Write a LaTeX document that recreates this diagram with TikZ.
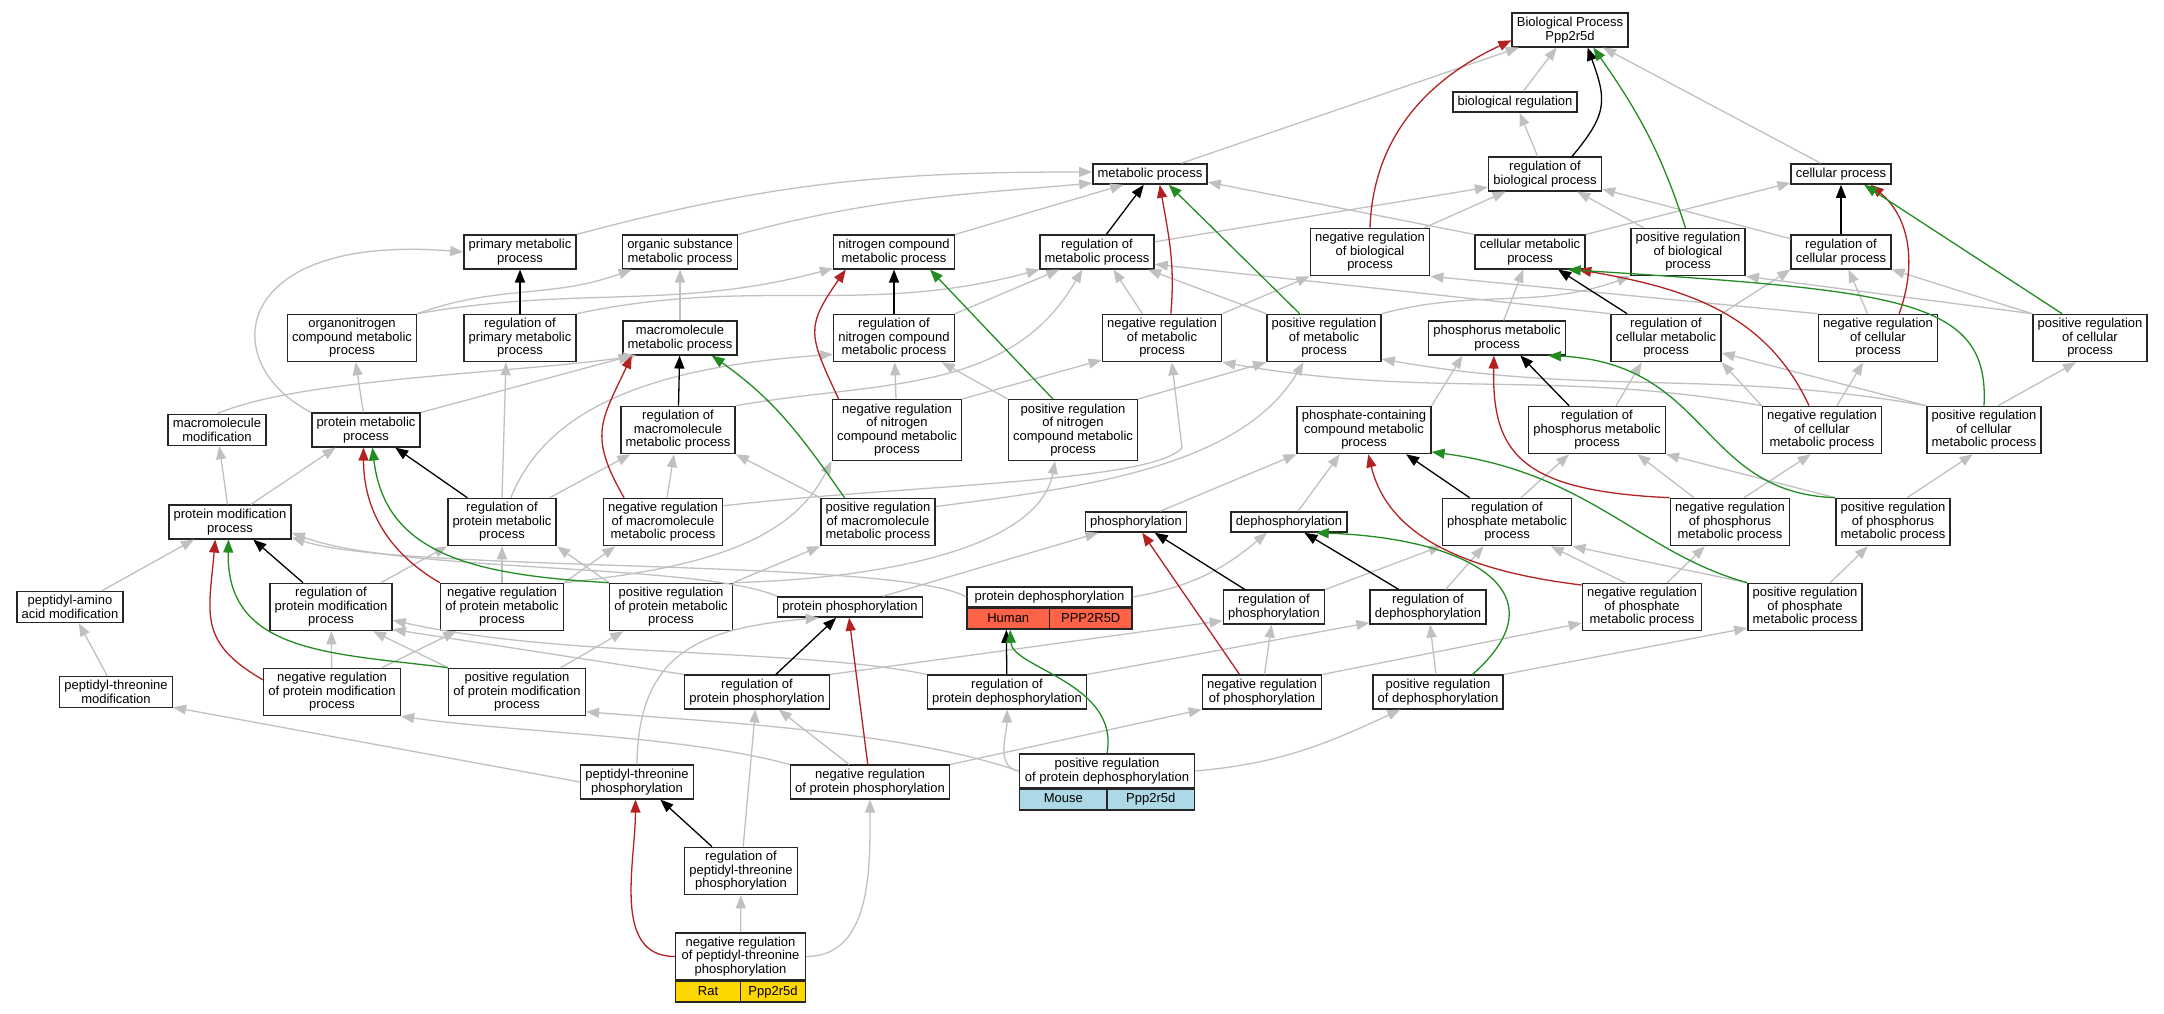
\documentclass[tikz,border=0pt]{standalone}
\usepackage{fontspec}
\setmainfont{Liberation Sans}
\usetikzlibrary{arrows.meta, positioning}

\definecolor{isagray}{RGB}{192,192,192}
\definecolor{negred}{RGB}{178,34,34}
\definecolor{posgreen}{RGB}{34,139,34}
\definecolor{human}{RGB}{255,99,71}
\definecolor{mouse}{RGB}{173,216,230}
\definecolor{rat}{RGB}{255,215,0}

\tikzset{
    term/.style={draw=black!85, line width=1.5pt, fill=white, align=center,
        font=\fontsize{13}{13.5}\selectfont, inner xsep=4.7pt, inner ysep=4pt},
    species/.style={draw=black!85, line width=1.5pt, font=\fontsize{13}{13.5}\selectfont,
        minimum height=20.5pt, text height=9.5pt, text depth=2.7pt, inner sep=0pt},
    link/.style={line width=1.3pt, -{Triangle[length=13pt, width=10pt]}},
    isa/.style={link, color=isagray},
    reg/.style={link, color=black},
    negreg/.style={link, color=negred},
    posreg/.style={link, color=posgreen}
}

\begin{document}
\begin{tikzpicture}[x=1pt, y=1pt]
        \useasboundingbox (0,0) rectangle (2164,1013);
        % terms, row by row
        \node[term] (bp) at (1570,983) {Biological Process\\Ppp2r5d};
        \node[term] (bioreg) at (1515,911) {biological regulation};
        \node[term] (metab) at (1150,839) {metabolic process};
        \node[term] (regbio) at (1545,839) {regulation of\\biological process};
        \node[term] (cell) at (1841,839) {cellular process};

        \node[term] (primary) at (520,761) {primary metabolic\\process};
        \node[term] (orgsub) at (680,761) {organic substance\\metabolic process};
        \node[term] (nitro) at (894,761) {nitrogen compound\\metabolic process};
        \node[term] (regmetab) at (1097,761) {regulation of\\metabolic process};
        \node[term] (negbio) at (1370,761) {negative regulation\\of biological\\process};
        \node[term] (cellmetab) at (1530,761) {cellular metabolic\\process};
        \node[term] (posbio) at (1688,761) {positive regulation\\of biological\\process};
        \node[term] (regcell) at (1841,761) {regulation of\\cellular process};

        \node[term] (orgnit) at (352,675) {organonitrogen\\compound metabolic\\process};
        \node[term] (regprim) at (520,675) {regulation of\\primary metabolic\\process};
        \node[term] (macro) at (680,675) {macromolecule\\metabolic process};
        \node[term] (regnitro) at (894,675) {regulation of\\nitrogen compound\\metabolic process};
        \node[term] (negmetab) at (1162,675) {negative regulation\\of metabolic\\process};
        \node[term] (posmetab) at (1324,675) {positive regulation\\of metabolic\\process};
        \node[term] (phosphorus) at (1497,675) {phosphorus metabolic\\process};
        \node[term] (regcellmetab) at (1666,675) {regulation of\\cellular metabolic\\process};
        \node[term] (negcell) at (1878,675) {negative regulation\\of cellular\\process};
        \node[term] (poscell) at (2090,675) {positive regulation\\of cellular\\process};

        \node[term] (macromod) at (217,583) {macromolecule\\modification};
        \node[term] (protmetab) at (366,583) {protein metabolic\\process};
        \node[term] (regmacro) at (678,583) {regulation of\\macromolecule\\metabolic process};
        \node[term] (negnitro) at (897,583) {negative regulation\\of nitrogen\\compound metabolic\\process};
        \node[term] (posnitro) at (1073,583) {positive regulation\\of nitrogen\\compound metabolic\\process};
        \node[term] (phosphate) at (1364,583) {phosphate-containing\\compound metabolic\\process};
        \node[term] (regphosphorus) at (1597,583) {regulation of\\phosphorus metabolic\\process};
        \node[term] (negcellmetab) at (1822,583) {negative regulation\\of cellular\\metabolic process};
        \node[term] (poscellmetab) at (1984,583) {positive regulation\\of cellular\\metabolic process};

        \node[term] (protmod) at (230,491) {protein modification\\process};
        \node[term] (regprotmetab) at (502,491) {regulation of\\protein metabolic\\process};
        \node[term] (negmacro) at (663,491) {negative regulation\\of macromolecule\\metabolic process};
        \node[term] (posmacro) at (878,491) {positive regulation\\of macromolecule\\metabolic process};
        \node[term] (phosphoryl) at (1136,491) {phosphorylation};
        \node[term] (dephos) at (1289,491) {dephosphorylation};
        \node[term] (regphosphate) at (1507,491) {regulation of\\phosphate metabolic\\process};
        \node[term] (negphosphorus) at (1730,491) {negative regulation\\of phosphorus\\metabolic process};
        \node[term] (posphosphorus) at (1893,491) {positive regulation\\of phosphorus\\metabolic process};

        \node[term] (peptamino) at (70,406) {peptidyl-amino\\acid modification};
        \node[term] (regprotmod) at (331,406) {regulation of\\protein modification\\process};
        \node[term] (negprotmetab) at (502,406) {negative regulation\\of protein metabolic\\process};
        \node[term] (posprotmetab) at (671,406) {positive regulation\\of protein metabolic\\process};
        \node[term] (protphos) at (850,406) {protein phosphorylation};
        \node[term, minimum width=165pt] (protdephos) at (1049.5,416) {protein dephosphorylation};
        \node[species, fill=human, minimum width=82.5pt, below right=0pt and 0pt of protdephos.south west] (protdephosH) {Human};
        \node[species, fill=human, minimum width=82.5pt, below left=0pt and 0pt of protdephos.south east] (protdephosG) {PPP2R5D};
        \node[term] (regphosphoryl) at (1274,406) {regulation of\\phosphorylation};
        \node[term] (regdephos) at (1428,406) {regulation of\\dephosphorylation};
        \node[term] (negphosphate) at (1642,406) {negative regulation\\of phosphate\\metabolic process};
        \node[term] (posphosphate) at (1805,406) {positive regulation\\of phosphate\\metabolic process};

        \node[term] (peptthrmod) at (116,321) {peptidyl-threonine\\modification};
        \node[term] (negprotmod) at (332,321) {negative regulation\\of protein modification\\process};
        \node[term] (posprotmod) at (517,321) {positive regulation\\of protein modification\\process};
        \node[term] (regprotphos) at (757,321) {regulation of\\protein phosphorylation};
        \node[term] (regprotdephos) at (1007,321) {regulation of\\protein dephosphorylation};
        \node[term] (negphosphoryl) at (1262,321) {negative regulation\\of phosphorylation};
        \node[term] (posdephos) at (1438,321) {positive regulation\\of dephosphorylation};

        \node[term] (peptthrphos) at (637,231) {peptidyl-threonine\\phosphorylation};
        \node[term] (negprotphos) at (870,231) {negative regulation\\of protein phosphorylation};
        \node[term, minimum width=175pt] (posprotdephos) at (1107,242) {positive regulation\\of protein dephosphorylation};
        \node[species, fill=mouse, minimum width=87.5pt, below right=0pt and 0pt of posprotdephos.south west] (posprotdephosM) {Mouse};
        \node[species, fill=mouse, minimum width=87.5pt, below left=0pt and 0pt of posprotdephos.south east] (posprotdephosG) {Ppp2r5d};
        \node[term] (regpeptthr) at (741,142) {regulation of\\peptidyl-threonine\\phosphorylation};
        \node[term, minimum width=130pt] (negpeptthr) at (740.5,56.5) {negative regulation\\of peptidyl-threonine\\phosphorylation};
        \node[species, fill=rat, minimum width=65pt, below right=0pt and 0pt of negpeptthr.south west] (negpeptthrR) {Rat};
        \node[species, fill=rat, minimum width=65pt, below left=0pt and 0pt of negpeptthr.south east] (negpeptthrG) {Ppp2r5d};

        % is_a
        \draw[isa] (bioreg) -- (bp);
        \draw[isa] (metab) -- (bp);
        \draw[isa] (cell) -- (bp);
        \draw[isa] (regbio) -- (bioreg);
        \draw[isa] (negbio) -- (regbio);
        \draw[isa] (posbio) -- (regbio);
        \draw[isa] (regcell) -- (regbio);
        \draw[isa] (regmetab.10) -- (regbio.-167);
        \draw[isa] (primary.north east) to[out=15,in=180] (metab.178);
        \draw[isa] (orgsub.north east) to[out=15,in=185] (metab.189);
        \draw[isa] (nitro.north east) -- (metab.-158);
        \draw[isa] (cellmetab.north west) -- (metab.-8);
        \draw[isa] (cellmetab.north east) -- (cell.-170);
        \draw[isa] (orgnit.north east) to[out=20,in=-160] (orgsub.-160);
        \draw[isa] (orgnit.north east) to[out=10,in=195] (nitro.195);
        \draw[isa] (macro) -- (orgsub);
        \draw[isa] (regprim.north east) to[out=12,in=-165] (regmetab.-163);
        \draw[isa] (regnitro.north east) -- (regmetab.-155);
        \draw[isa] (regmacro.north east) to[out=10,in=-120] (regmetab.-130);
        \draw[isa] (negmetab.129) -- (regmetab.-47);
        \draw[isa] (posmetab.north west) -- (regmetab.-19);
        \draw[isa] (regcellmetab.north west) -- (regmetab.-12);
        \draw[isa] (negmetab.north east) -- (negbio.south west);
        \draw[isa] (posmetab.north east) to[out=15,in=-160] (posbio.south west);
        \draw[isa] (negcell.north west) -- (negbio.south east);
        \draw[isa] (poscell.north west) -- (posbio.south east);
        \draw[isa] (negcell) -- (regcell);
        \draw[isa] (poscell.north west) -- (regcell.south east);
        \draw[isa] (regcellmetab.north east) -- (regcell.south west);
        \draw[isa] (phosphorus) -- (cellmetab);
        \draw[isa] (phosphate.north east) -- (phosphorus.-153);
        \draw[isa] (regphosphorus.52) -- (regcellmetab.-135);
        \draw[isa] (negcellmetab.north west) -- (regcellmetab.south east);
        \draw[isa] (poscellmetab.north west) -- (regcellmetab.-15);
        \draw[isa] (negcellmetab) -- (negcell);
        \draw[isa] (poscellmetab.60) -- (poscell.-120);
        \draw[isa] (negcellmetab.north west) to[out=170,in=-10] (negmetab.south east);
        \draw[isa] (poscellmetab.north west) to[out=170,in=-10] (posmetab.-20);
        \draw[isa] (negphosphorus.146) -- (regphosphorus.-31);
        \draw[isa] (negphosphorus.60) -- (negcellmetab.-115);
        \draw[isa] (posphosphorus.north west) -- (regphosphorus.south east);
        \draw[isa] (posphosphorus.60) -- (poscellmetab.-115);
        \draw[isa] (regphosphate.60) -- (regphosphorus.-139);
        \draw[isa] (negphosphate) -- (negphosphorus);
        \draw[isa] (posphosphate) -- (posphosphorus);
        \draw[isa] (negphosphate.125) -- (regphosphate.-29);
        \draw[isa] (posphosphate.north west) -- (regphosphate.south east);
        \draw[isa] (phosphoryl.24) -- (phosphate.south west);
        \draw[isa] (dephos.50) -- (phosphate.-135);
        \draw[isa] (regphosphoryl.north east) -- (regphosphate.-160);
        \draw[isa] (regdephos.45) -- (regphosphate.-134);
        \draw[isa] (negphosphoryl) -- (regphosphoryl);
        \draw[isa] (negphosphoryl.north east) -- (negphosphate.-165);
        \draw[isa] (posdephos) -- (regdephos);
        \draw[isa] (posdephos.north east) -- (posphosphate.-160);
        \draw[isa] (protdephos.east) to[out=10,in=-140] (dephos.-154);
        \draw[isa] (protphos.18) -- (phosphoryl.-164);
        \draw[isa] (protphos.north west) .. controls (700,450) and (400,440) .. (protmod.-10);
        \draw[isa] (protdephos.west) .. controls (900,455) and (400,440) .. (protmod.-14);
        \draw[isa] (peptthrphos.north) .. controls (638,360) and (700,385) .. (protphos.-161);
        \draw[isa] (peptthrphos.west) -- (peptthrmod.-15);
        \draw[isa] (regpeptthr) -- (regprotphos);
        \draw[isa] (negpeptthr) -- (regpeptthr);
        \draw[isa] (negpeptthr.east) to[out=0,in=-90] (negprotphos.south);
        \draw[isa] (negprotphos.140) -- (regprotphos.-39);
        \draw[isa] (negprotphos.north east) -- (negphosphoryl.south west);
        \draw[isa] (negprotphos.north west) .. controls (680,278) and (520,280) .. (negprotmod.south east);
        \draw[isa] (posprotdephos.west) .. controls (900,283) and (700,292) .. (posprotmod.-16);
        \draw[isa] (posprotdephos.west) to[out=170,in=-90] (regprotdephos.south);
        \draw[isa] (posprotdephos.east) to[out=5,in=-155] (posdephos.-155);
        \draw[isa] (regprotdephos.north east) -- (regdephos.-165);
        \draw[isa] (regprotphos.north east) -- (regphosphoryl.-165);
        \draw[isa] (regprotphos.north west) -- (regprotmod.-20);
        \draw[isa] (regprotdephos.north west) .. controls (800,365) and (560,355) .. (regprotmod.-12);
        \draw[isa] (posprotmod.north west) -- (regprotmod.-30);
        \draw[isa] (negprotmod) -- (regprotmod);
        \draw[isa] (negprotmod.26) -- (negprotmetab.-152);
        \draw[isa] (posprotmod.29) -- (posprotmetab.-153);
        \draw[isa] (protmod.40) -- (protmetab.-150);
        \draw[isa] (protmod) -- (macromod);
        \draw[isa] (peptamino.27) -- (protmod.-154);
        \draw[isa] (peptthrmod) -- (peptamino);
        \draw[isa] (macromod.north) .. controls (300,635) and (520,640) .. (macro.-158);
        \draw[isa] (protmetab.north east) -- (macro.-160);
        \draw[isa] (protmetab) -- (orgnit);
        \draw[isa] (protmetab.north west) .. controls (215,650) and (230,780) .. (primary.west);
        \draw[isa] (regprotmetab.north) -- (regprim.-120);
        \draw[isa] (regprotmetab.27) -- (regmacro.-153);
        \draw[isa] (regprotmetab.70) .. controls (545,600) and (640,645) .. (regnitro.195);
        \draw[isa] (regprotmod.26) -- (regprotmetab.south west);
        \draw[isa] (negprotmetab) -- (regprotmetab);
        \draw[isa] (negprotmetab.north east) -- (negmacro.-153);
        \draw[isa] (negprotmetab.north east) .. controls (700,445) and (790,470) .. (negnitro.south west);
        \draw[isa] (posprotmetab.north west) -- (regprotmetab.south east);
        \draw[isa] (posprotmetab.north east) -- (posmacro.south west);
        \draw[isa] (posprotmetab.north east) .. controls (900,435) and (1040,470) .. (posnitro.-120);
        \draw[isa] (negmacro) -- (regmacro);
        \draw[isa] (posmacro.north west) -- (regmacro.south east);
        \draw[isa] (negmacro.15) .. controls (900,528) and (1150,530) .. (1182,565) -- (negmetab.-68);
        \draw[isa] (posmacro.15) .. controls (1080,525) and (1240,545) .. (posmetab.-130);
        \draw[isa] (negnitro) -- (regnitro);
        \draw[isa] (negnitro.north east) -- (negmetab.-160);
        \draw[isa] (posnitro.north west) -- (regnitro.-27);
        \draw[isa] (posnitro.north east) -- (posmetab.south west);

        % regulates
        \draw[reg] (regbio.33) to[out=50,in=-70,looseness=1.3] (bp.-45);
        \draw[reg] (regmetab.62) -- (metab.-120);
        \draw[reg] (regcell) -- (cell);
        \draw[reg] (regprim) -- (primary);
        \draw[reg] (regnitro) -- (nitro);
        \draw[reg] (regmacro) -- (macro);
        \draw[reg] (regcellmetab.148) -- (cellmetab.-32);
        \draw[reg] (regphosphorus.139) -- (phosphorus.-37);
        \draw[reg] (regphosphate.147) -- (phosphate.-30);
        \draw[reg] (regprotmetab.145) -- (protmetab.-31);
        \draw[reg] (regprotmod.139) -- (protmod.-37);
        \draw[reg] (regphosphoryl.149) -- (phosphoryl.-30);
        \draw[reg] (regdephos.149) -- (dephos.-35);
        \draw[reg] (regprotphos.43) -- (protphos.-142);
        \draw[reg] (regprotdephos) -- (protdephosH.-100);
        \draw[reg] (regpeptthr.140) -- (peptthrphos.-37);

        % negatively regulates
        \draw[negreg] (negbio.north) to[out=88,in=205] (bp.190);
        \draw[negreg] (negmetab.70) to[out=85,in=-80] (metab.-48);
        \draw[negreg] (negcell.49) to[out=70,in=-40] (cell.-20);
        \draw[negreg] (negprotmetab.north west) to[out=150,in=-90] (protmetab.-98);
        \draw[negreg] (negmacro.148) to[out=120,in=-115,looseness=1.3] (macro.-160);
        \draw[negreg] (negnitro.152) to[out=115,in=-125,looseness=1.4] (nitro.-160);
        \draw[negreg] (negcellmetab.118) to[out=115,in=-10] (cellmetab.-20);
        \draw[negreg] (negphosphorus.north west) .. controls (1520,522) and (1492,560) .. (phosphorus.-100);
        \draw[negreg] (negphosphate.160) .. controls (1440,445) and (1385,490) .. (phosphate.-80);
        \draw[negreg] (negphosphoryl.142) -- (phosphoryl.-60);
        \draw[negreg] (negprotphos) -- (protphos.-95);
        \draw[negreg] (negprotmod.170) to[out=150,in=-95,looseness=1.3] (protmod.-130);
        \draw[negreg] (negpeptthr.west) to[out=180,in=-90] (peptthrphos.-95);

        % positively regulates
        \draw[posreg] (posbio.96) to[out=108,in=-55] (bp.-37);
        \draw[posreg] (posmetab.135) -- (metab.-30);
        \draw[posreg] (poscell.139) -- (cell.-25);
        \draw[posreg] (posprotmetab.north west) .. controls (470,438) and (385,460) .. (protmetab.-70);
        \draw[posreg] (posmacro.144) to[out=125,in=-35] (macro.-29);
        \draw[posreg] (posnitro.123) -- (nitro.-26);
        \draw[posreg] (poscellmetab.north) .. controls (1990,715) and (1900,722) .. (cellmetab.-25);
        \draw[posreg] (posphosphorus.north west) .. controls (1700,520) and (1710,650) .. (phosphorus.-19);
        \draw[posreg] (posphosphate.north west) .. controls (1640,460) and (1590,540) .. (phosphate.-18);
        \draw[posreg] (posdephos.27) .. controls (1565,420) and (1470,475) .. (dephos.-22);
        \draw[posreg] (posprotmod.north west) .. controls (330,360) and (226,360) .. (protmod.-95);
        \draw[posreg] (posprotdephos.north) .. controls (1120,330) and (1012,345) .. (protdephosH.-80);
    \end{tikzpicture}
\end{document}
